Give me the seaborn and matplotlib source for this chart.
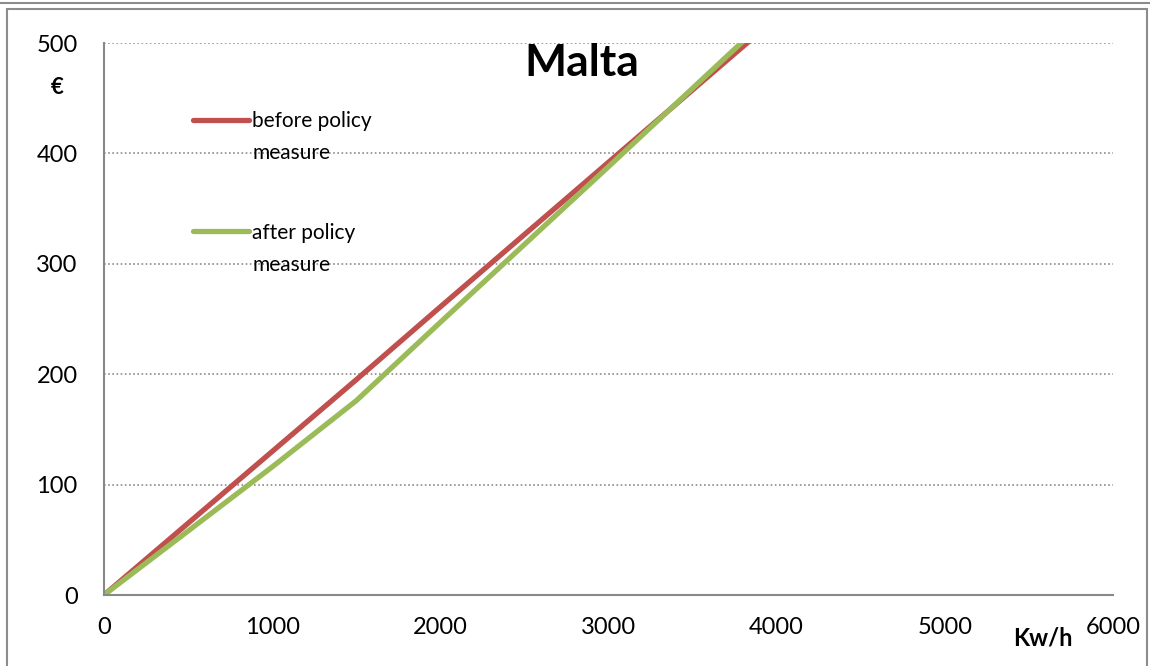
import pandas as pd
import matplotlib
matplotlib.use("Agg")
import matplotlib.pyplot as plt
from matplotlib.patches import Rectangle
from matplotlib.lines import Line2D
from matplotlib.legend_handler import HandlerLine2D
import seaborn as sns

# data
kwh = [0, 1000, 1500, 2000, 3000, 4000]
before_policy = [0, 130, 195, 261, 392, 523]
after_policy = [0, 116, 176, 247, 388, 530]
series_names = ["before policy\nmeasure", "after policy\nmeasure"]
series_colors = ["#C0504D", "#9BBB59"]
x_ticks = [0, 1000, 2000, 3000, 4000, 5000, 6000]
y_ticks = [0, 100, 200, 300, 400, 500]

df = pd.concat([
    pd.DataFrame({"kwh": kwh, "eur": before_policy, "series": series_names[0]}),
    pd.DataFrame({"kwh": kwh, "eur": after_policy, "series": series_names[1]}),
])


class HandlerFirstLine(HandlerLine2D):
    # put the legend line level with the first text line, like Excel does
    def create_artists(self, legend, orig_handle, xdescent, ydescent, width, height, fontsize, trans):
        artists = super().create_artists(legend, orig_handle, xdescent, ydescent, width, height, fontsize, trans)
        for a in artists:
            a.set_ydata([y + 0.87 * fontsize for y in a.get_ydata()])
        return artists


sns.set_style("white")
plt.rcParams["font.family"] = ["Lato", "DejaVu Sans"]
plt.rcParams["text.color"] = "black"

fig = plt.figure(figsize=(11.5, 6.66), dpi=100)
ax = fig.add_axes([104 / 1150, 1 - 595 / 666, (1113 - 104) / 1150, (595 - 43) / 666])

sns.lineplot(data=df, x="kwh", y="eur", hue="series", palette=series_colors,
             linewidth=3.8, ax=ax, legend=False, sort=False)

ax.set_xlim(0, 6000)
ax.set_ylim(0, 500)
ax.set_xticks(x_ticks)
ax.set_yticks(y_ticks)
ax.set_xlabel("")
ax.set_ylabel("")
ax.tick_params(axis="both", labelsize=17, colors="#888888", labelcolor="black",
               length=5, width=1.5, direction="out")
ax.tick_params(axis="y", pad=14)
ax.tick_params(axis="x", pad=11)
ax.yaxis.grid(True, linestyle=(0, (1, 1.5)), color="#8c8c8c", linewidth=1.2)
ax.xaxis.grid(False)
for side in ["top", "right"]:
    ax.spines[side].set_visible(False)
for side in ["left", "bottom"]:
    ax.spines[side].set_color("#888888")
    ax.spines[side].set_linewidth(1.5)

ax.text(2840, 482, "Malta", fontsize=32, fontweight="bold", ha="center", va="center")
fig.text(57 / 1150, 1 - 87 / 666, "€", fontsize=16, fontweight="bold", ha="center", va="center")
fig.text(1043 / 1150, 1 - 638 / 666, "Kw/h", fontsize=17, fontweight="bold", ha="center", va="center")

handles = [Line2D([], [], color=c, linewidth=3.8, solid_capstyle="round") for c in series_colors]
leg = ax.legend(handles, series_names, loc="upper left", bbox_to_anchor=(193 / 1150, 1 - 111 / 666),
                bbox_transform=fig.transFigure, frameon=False, fontsize=15, handlelength=2.7,
                handletextpad=0.15, labelspacing=2.84, borderaxespad=0, borderpad=0,
                handler_map={Line2D: HandlerFirstLine()})
for t in leg.get_texts():
    t.set_linespacing(1.78)

# chart frame
fig.patches.append(Rectangle((7 / 1150, -0.05), (1147 - 7) / 1150, 1.05 - 9 / 666,
                             transform=fig.transFigure, fill=False, edgecolor="#8c8c8c",
                             linewidth=1.5))
fig.lines.append(Line2D([0, 1], [1 - 3 / 666, 1 - 3 / 666], transform=fig.transFigure,
                        color="#8c8c8c", linewidth=1.5))

fig.savefig("out.png", dpi=100)
